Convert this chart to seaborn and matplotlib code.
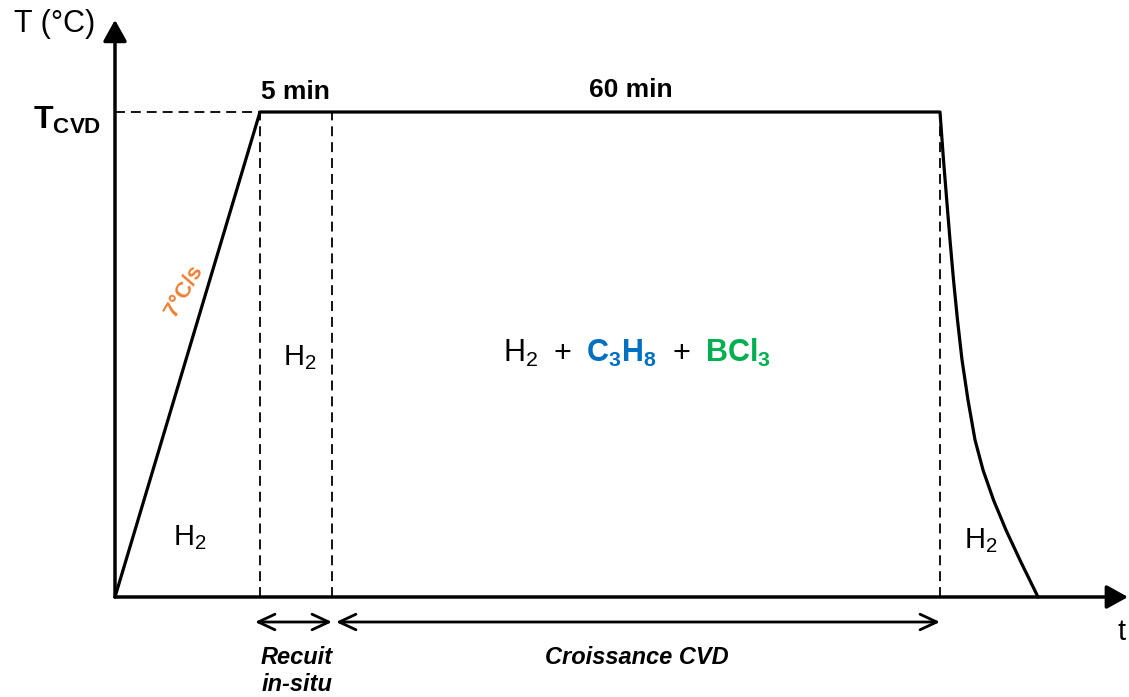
import numpy as np
import pandas as pd
import matplotlib
matplotlib.use("Agg")
import matplotlib.pyplot as plt
import seaborn as sns
from matplotlib.offsetbox import TextArea, HPacker, AnnotationBbox

# ---- data (schematic time units / temperature relative to T_CVD) ----
t_profile = [0, 145, 217, 825, 828.5, 831.7, 835, 838.5, 842.5, 847, 853, 860, 868, 878.5, 891, 905, 923]
temp_profile = [0.0, 1.0, 1.0, 1.0, 0.901, 0.819, 0.736, 0.654, 0.571, 0.489, 0.406, 0.324,
                0.262, 0.200, 0.138, 0.076, 0.0]
phase_bounds = [145, 217, 825]          # end of ramp, end of anneal, end of growth
arrow_spans = [(140, 217), (221, 825)]  # recuit, croissance
t_axis_end = 1013
T_axis_end = 1.19
labels_top = ["5 min", "60 min"]
ramp_label = "7°C/s"

sns.set_theme(style="white")
plt.rcParams['font.family'] = ['Liberation Sans', 'DejaVu Sans']
plt.rcParams['text.color'] = 'black'
plt.rcParams['mathtext.fontset'] = 'custom'
plt.rcParams['mathtext.rm'] = 'Liberation Sans'
plt.rcParams['mathtext.it'] = 'Liberation Sans:italic'
plt.rcParams['mathtext.bf'] = 'Liberation Sans:bold'

fig = plt.figure(figsize=(11.29, 6.97), dpi=100)
ax = fig.add_axes([0, 0, 1, 1])
ax.set_xlim(-115, 1014)
ax.set_ylim(-100 / 485, 597 / 485)
ax.axis('off')

df = pd.DataFrame({"t": t_profile, "T": temp_profile})
sns.lineplot(data=df, x="t", y="T", sort=False, estimator=None, color='black', lw=2.3,
             solid_joinstyle='round', ax=ax)

# axes arrows
for tip in [(0, T_axis_end), (t_axis_end, 0)]:
    ax.annotate('', xy=tip, xytext=(0, 0),
                arrowprops=dict(arrowstyle='-|>,head_length=0.65,head_width=0.36', lw=2.5,
                                color='black', mutation_scale=20, shrinkA=0, shrinkB=0),
                annotation_clip=False)

# dashed guides
dash = (0, (5.5, 3.3))
ax.plot([0, phase_bounds[0]], [1, 1], ls=dash, color='black', lw=1.3)
for tb in phase_bounds:
    ax.plot([tb, tb], [0, 1], ls=dash, color='black', lw=1.3)

# double arrows
arrow_y = -25 / 485
for a, b in arrow_spans:
    ax.annotate('', xy=(b, arrow_y), xytext=(a, arrow_y),
                arrowprops=dict(arrowstyle='<->,head_length=0.6,head_width=0.28', lw=2,
                                color='black', mutation_scale=20, shrinkA=0, shrinkB=0),
                annotation_clip=False)

def Y(px):
    return (597 - px) / 485

# texts
ax.text(-60, Y(24), 'T (°C)', fontsize=22, ha='center', va='center')
ax.text(1007, Y(632), 't', fontsize=21, ha='center', va='center')
ax.text(-48, Y(120), r'$\mathbf{T}_{\mathbf{CVD}}$', fontsize=23, ha='center', va='center')
ax.text(180, Y(92), labels_top[0], fontsize=19, fontweight='bold', ha='center', va='center')
ax.text(516, Y(90), labels_top[1], fontsize=19, fontweight='bold', ha='center', va='center')
ax.text(69, Y(291), ramp_label, fontsize=16, fontweight='bold', color='#ED7D31',
        rotation=60, ha='center', va='center')
ax.text(75, Y(538), r'H$_2$', fontsize=21, ha='center', va='center')
ax.text(185, Y(358), r'H$_2$', fontsize=21, ha='center', va='center')
ax.text(866, Y(541), r'H$_2$', fontsize=21, ha='center', va='center')
ax.text(182, Y(671), 'Recuit\nin-situ', fontsize=17, fontweight='bold', fontstyle='italic',
        ha='center', va='center', linespacing=1.2)
ax.text(522, Y(658), 'Croissance CVD', fontsize=17, fontweight='bold', fontstyle='italic',
        ha='center', va='center')

fs = 22
pieces = [
    TextArea(r'H$_2$', textprops=dict(fontsize=fs, color='black')),
    TextArea('+', textprops=dict(fontsize=fs, color='black')),
    TextArea(r'$\mathbf{C}_{\mathbf{3}}\mathbf{H}_{\mathbf{8}}$', textprops=dict(fontsize=fs, color='#0070C0')),
    TextArea('+', textprops=dict(fontsize=fs, color='black')),
    TextArea(r'$\mathbf{BCl}_{\mathbf{3}}$', textprops=dict(fontsize=fs, color='#00B050')),
]
box = HPacker(children=pieces, align='baseline', pad=0, sep=11)
ab = AnnotationBbox(box, (522, Y(353)), frameon=False, box_alignment=(0.5, 0.5))
ax.add_artist(ab)

fig.savefig('out.png', dpi=100)
